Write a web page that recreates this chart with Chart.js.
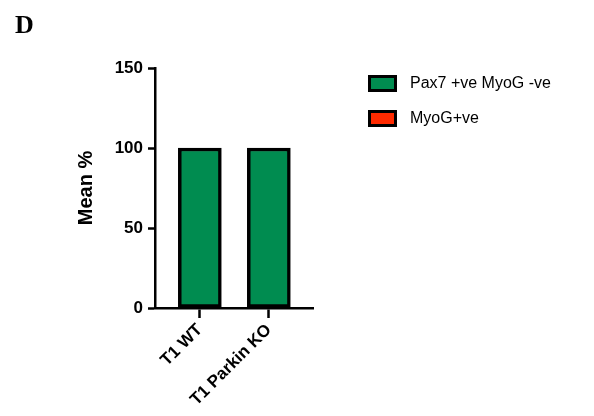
<!DOCTYPE html>
<html>
<head>
<meta charset="utf-8">
<title>Mean %</title>
<script src="https://cdn.jsdelivr.net/npm/chart.js@4"></script>
<style>
  html, body { margin: 0; padding: 0; background: #fff; }
  canvas { display: block; }
</style>
</head>
<body>
<canvas id="chart" width="594" height="416"></canvas>
<script>
// groups along the x axis
const categories = ['T1 WT', 'T1 Parkin KO'];

// stacked series (mean %)
const pax7Values = [100, 100];
const myogValues = [0, 0];

const seriesNames = ['Pax7 +ve MyoG -ve', 'MyoG+ve'];
const seriesColors = ['#008c50', '#ff2a00'];

const yTicks = [0, 50, 100, 150];
const panelLetter = 'D';

const SANS = '"Liberation Sans", Arial, Helvetica, sans-serif';

// panel letter and the legend sit outside the plot, drawn by hand
const extrasPlugin = {
  id: 'extras',
  afterDraw(chart) {
    const ctx = chart.ctx;
    ctx.save();
    ctx.fillStyle = '#000';
    ctx.font = 'bold 26px "Liberation Serif", "Times New Roman", serif';
    ctx.textAlign = 'left';
    ctx.textBaseline = 'alphabetic';
    ctx.fillText(panelLetter, 15, 33);

    chart.data.datasets.forEach((ds, i) => {
      const x = 368, y = 75 + i * 35, w = 29, h = 17;
      ctx.fillStyle = '#000';
      ctx.fillRect(x, y, w, h);
      ctx.fillStyle = ds.backgroundColor;
      ctx.fillRect(x + 3, y + 3, w - 6, h - 6);
      ctx.fillStyle = '#000';
      ctx.font = '16px ' + SANS;
      ctx.textBaseline = 'middle';
      ctx.fillText(ds.label, 410, y + h / 2 + 0.5);
    });
    ctx.restore();
  }
};

const makeData = values => values.map((v, i) => ({ x: i + 1, y: v }));

const barStyle = {
  borderColor: '#000',
  borderWidth: 3.5,
  borderSkipped: false,
  barThickness: 43
};

new Chart(document.getElementById('chart'), {
  type: 'bar',
  data: {
    datasets: [
      Object.assign({
        label: seriesNames[0],
        data: makeData(pax7Values),
        backgroundColor: seriesColors[0]
      }, barStyle),
      Object.assign({
        label: seriesNames[1],
        data: makeData(myogValues),
        backgroundColor: seriesColors[1]
      }, barStyle)
    ]
  },
  options: {
    responsive: false,
    animation: false,
    layout: { padding: { left: 0, top: 68, right: 281, bottom: 0 } },
    plugins: {
      legend: { display: false },
      tooltip: { enabled: false }
    },
    scales: {
      x: {
        type: 'linear',
        stacked: true,
        offset: false,
        min: 0.35,
        max: 2.64,
        afterBuildTicks: scale => {
          scale.ticks = categories.map((c, i) => ({ value: i + 1 }));
        },
        afterFit: scale => { scale.height = 108; },
        ticks: {
          callback: v => categories[v - 1],
          minRotation: 45,
          maxRotation: 45,
          color: '#000',
          padding: 2,
          font: { family: SANS, size: 17, weight: 'bold' }
        },
        grid: {
          offset: false,
          drawOnChartArea: false,
          tickLength: 10,
          tickWidth: 2.5,
          tickColor: '#000'
        },
        border: { color: '#000', width: 2.5 }
      },
      y: {
        stacked: true,
        min: 0,
        max: 150,
        afterBuildTicks: scale => {
          scale.ticks = yTicks.map(v => ({ value: v }));
        },
        afterFit: scale => { scale.width = 155; },
        ticks: {
          color: '#000',
          padding: 5,
          font: { family: SANS, size: 17, weight: 'bold' }
        },
        grid: {
          drawOnChartArea: false,
          tickLength: 7,
          tickWidth: 2.5,
          tickColor: '#000'
        },
        border: { color: '#000', width: 2.5 },
        title: {
          display: true,
          text: 'Mean %',
          color: '#000',
          padding: { top: 74 },
          font: { family: SANS, size: 20, weight: 'bold' }
        }
      }
    }
  },
  plugins: [extrasPlugin]
});
</script>
</body>
</html>
